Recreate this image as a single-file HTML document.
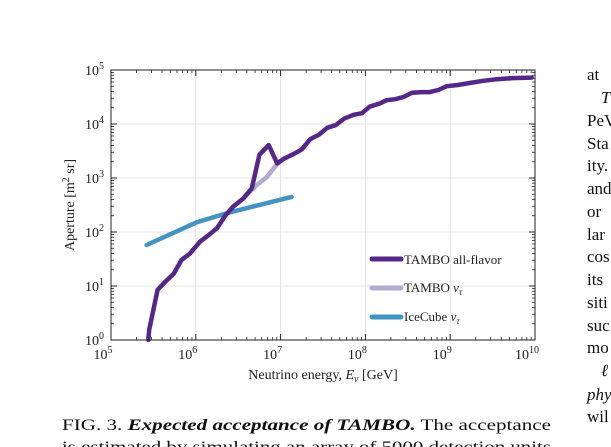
<!DOCTYPE html>
<html><head><meta charset="utf-8"><style>
html,body{margin:0;padding:0;background:#fff;}
svg{display:block;font-family:"Liberation Serif",serif;}
</style></head><body>
<svg id="chart" width="611" height="447" viewBox="0 0 611 447" xmlns="http://www.w3.org/2000/svg">
<g id="grid"></g>
<g id="series"></g>
<rect x="111" y="70" width="424" height="270" fill="none" stroke="#222" stroke-width="1"/>
<g id="ticks"></g>
<g id="labels" font-size="14" fill="#222"></g>
<text x="323" y="379" font-size="14" text-anchor="middle" fill="#222">Neutrino energy, <tspan font-style="italic">E</tspan><tspan font-style="italic" font-size="10" dy="3">ν</tspan><tspan dy="-3"> [GeV]</tspan></text>
<text transform="translate(74,205) rotate(-90)" font-size="14" text-anchor="middle" fill="#222">Aperture [m<tspan font-size="10" dy="-5">2</tspan><tspan dy="5"> sr]</tspan></text>
<g font-size="13" fill="#222">
<line x1="372" y1="259" x2="401" y2="259" stroke="#542788" stroke-width="5" stroke-linecap="round"/>
<text x="404" y="264">TAMBO all-flavor</text>
<line x1="372" y1="288" x2="401" y2="288" stroke="#b2abd2" stroke-width="5" stroke-linecap="round"/>
<text x="404" y="292">TAMBO <tspan font-style="italic">ν</tspan><tspan font-style="italic" font-size="9" dy="3">τ</tspan></text>
<line x1="372" y1="317" x2="401" y2="317" stroke="#4393c3" stroke-width="5" stroke-linecap="round"/>
<text x="404" y="321">IceCube <tspan font-style="italic">ν</tspan><tspan font-style="italic" font-size="9" dy="3">τ</tspan></text>
</g>
<g font-size="16" fill="#111">
<text x="62" y="430" textLength="489" lengthAdjust="spacingAndGlyphs">FIG. 3. <tspan font-weight="bold" font-style="italic">Expected acceptance of TAMBO.</tspan> The acceptance</text>
<text x="62" y="452" textLength="489" lengthAdjust="spacingAndGlyphs">is estimated by simulating an array of 5000 detection units</text>
</g>
<g font-size="17" fill="#111">
<text x="587" y="80">at</text>
<text x="601" y="103" font-style="italic">T</text>
<text x="587" y="126">PeV</text>
<text x="587" y="149">Sta</text>
<text x="587" y="171">ity.</text>
<text x="587" y="194">and</text>
<text x="587" y="217">or</text>
<text x="587" y="240">lar</text>
<text x="587" y="262">cos</text>
<text x="587" y="285">its</text>
<text x="587" y="308">siti</text>
<text x="587" y="331">suc</text>
<text x="587" y="353">mo</text>
<text x="601" y="376" font-style="italic">ℓ</text>
<text x="587" y="400" font-style="italic">phy</text>
<text x="587" y="422">wil</text>
</g>
</svg>
<script>
const allFlavorLogE=[5.44,5.45,5.55,5.64,5.74,5.83,5.93,6.05,6.15,6.25,6.35,6.44,6.56,6.66,6.75,6.86,6.96,7.04,7.15,7.25,7.35,7.45,7.55,7.65,7.75,7.86,7.96,8.05,8.17,8.25,8.35,8.45,8.55,8.66,8.76,8.86,8.96,9.08,9.23,9.39,9.55,9.74,9.96];
const allFlavorLogA=[0,0.19,0.93,1.08,1.23,1.48,1.6,1.82,1.94,2.07,2.31,2.47,2.62,2.81,3.43,3.61,3.27,3.36,3.44,3.53,3.72,3.8,3.93,3.98,4.1,4.17,4.2,4.32,4.38,4.44,4.46,4.5,4.58,4.59,4.59,4.63,4.7,4.72,4.76,4.8,4.83,4.85,4.86];
const nuTauLogE=[6.44,6.56,6.6,6.72,6.84,6.96,7.04,7.15];
const nuTauLogA=[2.47,2.62,2.69,2.87,3.02,3.26,3.36,3.44];
const iceCubeLogE=[5.42,6.01,6.37,7.13];
const iceCubeLogA=[1.76,2.18,2.35,2.65];
const xTicks=[5,6,7,8,9,10];
const yTicks=[0,1,2,3,4,5];
const NS='http://www.w3.org/2000/svg';
const X0=111,X1=535,Y0=340,Y1=70;
const sx=v=>X0+(v-5)/5*(X1-X0);
const sy=v=>Y0-(v/5)*(Y0-Y1);
function mk(t,a,p){const e=document.createElementNS(NS,t);for(const k in a)e.setAttribute(k,a[k]);p.appendChild(e);return e;}
const grid=document.getElementById('grid'),ticks=document.getElementById('ticks'),labels=document.getElementById('labels'),series=document.getElementById('series');
xTicks.forEach(t=>{
  const g=mk('line',{x1:sx(t),x2:sx(t),y1:Y0,y2:Y1,stroke:'#e4e4e4','stroke-width':1},grid);
  
  
  const tx=mk('text',{x:sx(t)-8,y:Y0+19,'text-anchor':'middle'},labels);
  
  
  tx.innerHTML='10<tspan font-size="10" dy="-6">'+t+'</tspan>';
  [Y0,Y1].forEach((yy,i)=>{const l=mk('line',{x1:sx(t),x2:sx(t),y1:yy,y2:yy+(i?6:-6),stroke:'#222'},ticks);});
  if(t<10)for(let m=2;m<10;m++){const v=t+Math.log10(m);[Y0,Y1].forEach((yy,i)=>{const l=mk('line',{x1:sx(v),x2:sx(v),y1:yy,y2:yy+(i?3:-3),stroke:'#222','stroke-width':0.8},ticks);});}
});
yTicks.forEach(t=>{
  const g=mk('line',{x1:X0,x2:X1,y1:sy(t),y2:sy(t),stroke:'#e4e4e4','stroke-width':1},grid);
  
  
  const tx=mk('text',{x:X0-7,y:sy(t)+5,'text-anchor':'end'},labels);
  
  
  tx.innerHTML='10<tspan font-size="10" dy="-6">'+t+'</tspan>';
  [X0,X1].forEach((xx,i)=>{const l=mk('line',{x1:xx,x2:xx+(i?-6:6),y1:sy(t),y2:sy(t),stroke:'#222'},ticks);});
  if(t<5)for(let m=2;m<10;m++){const v=t+Math.log10(m);[X0,X1].forEach((xx,i)=>{const l=mk('line',{x1:xx,x2:xx+(i?-3:3),y1:sy(v),y2:sy(v),stroke:'#222','stroke-width':0.8},ticks);});}
});
function line(xs,ys,color,w,name){
  const d=xs.map((x,i)=>(i?'L':'M')+sx(x).toFixed(1)+' '+sy(ys[i]).toFixed(1)).join(' ');
  const p=mk('path',{d:d,fill:'none',stroke:color,'stroke-width':w,'stroke-linejoin':'round','stroke-linecap':'round'},series);
  
  
}
line(iceCubeLogE,iceCubeLogA,'#4393c3',4.5,'icecube-nutau-line');
line(nuTauLogE,nuTauLogA,'#b2abd2',4.5,'tambo-nutau-line');
line(allFlavorLogE,allFlavorLogA,'#542788',4.5,'tambo-all-flavor-line');
</script>
</body></html>
